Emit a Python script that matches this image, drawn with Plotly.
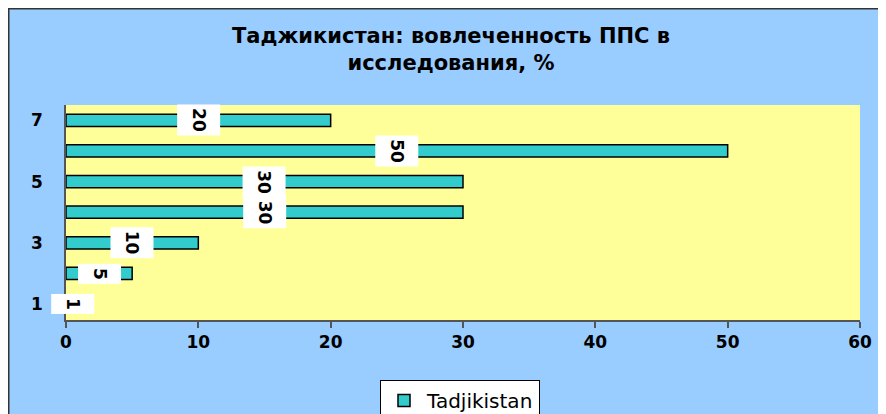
import plotly.graph_objects as go

categories = [1, 2, 3, 4, 5, 6, 7]
values = [1, 5, 10, 30, 30, 50, 20]
label_texts = ["1", "5", "10", "30", "30", "50", "20"]
series_name = "Tadjikistan"
title_text = "Таджикистан: вовлеченность ППС в<br>исследования, %"
x_ticks = [0, 10, 20, 30, 40, 50, 60]
y_ticks = [1, 3, 5, 7]

W, H = 878, 406
ml, mr, mt, mb = 58, 26, 97, 94
pw = W - ml - mr
ph = H - mt - mb

def px(xp):
    return (xp - ml) / pw

def py(yp):
    return (H - mb - yp) / ph

FONT = "DejaVu Sans"

fig = go.Figure()
fig.add_trace(go.Bar(
    x=values, y=categories, orientation="h", name=series_name,
    marker=dict(color="#33CCCC", line=dict(color="#000000", width=1.5)),
    width=0.4, showlegend=True,
))

for c, v, t in zip(categories, values, label_texts):
    fig.add_annotation(
        x=v / 2, y=c, xref="x", yref="y", text="<b>%s</b>" % t,
        textangle=90, showarrow=False, bgcolor="#FFFFFF",
        font=dict(family=FONT, size=17, color="#000000"),
        width=len(t) * 11 + 8, height=42, borderpad=0,
    )

# frame border (top and left edges)
fig.add_shape(type="line", xref="paper", yref="paper", x0=px(0), x1=px(W + 5), y0=py(0.5), y1=py(0.5),
              line=dict(color="#333333", width=2), layer="above")
fig.add_shape(type="line", xref="paper", yref="paper", x0=px(0.5), x1=px(0.5), y0=py(0), y1=py(H + 5),
              line=dict(color="#333333", width=2), layer="above")

fig.update_layout(
    width=W, height=H,
    margin=dict(l=ml, r=mr, t=mt, b=mb, pad=0, autoexpand=False),
    paper_bgcolor="#99CCFF", plot_bgcolor="#FFFF99",
    title=dict(text="<b>" + title_text + "</b>", x=443 / W, xanchor="center", y=1 - 34.5 / H, yanchor="middle",
               font=dict(family=FONT, size=21, color="#000000")),
    xaxis=dict(range=[0, 60], tickvals=x_ticks, ticktext=[str(v) for v in x_ticks],
               showgrid=False, zeroline=False, showline=True, linecolor="#555555", linewidth=1.5,
               ticks="outside", ticklen=6, tickcolor="#555555", tickwidth=1.5,
               tickfont=dict(family=FONT, size=17, color="#000000", weight="bold")),
    yaxis=dict(range=[0.48, 7.5], tickvals=y_ticks, ticktext=[str(v) for v in y_ticks],
               showgrid=False, zeroline=False, showline=True, linecolor="#555555", linewidth=1.5,
               ticks="", ticklabelstandoff=18,
               tickfont=dict(family=FONT, size=17, color="#000000", weight="bold")),
    legend=dict(x=px(372), xanchor="left", y=py(372), yanchor="top", orientation="h",
                bgcolor="#FFFFFF", bordercolor="#000000", borderwidth=1,
                font=dict(family=FONT, size=20, color="#000000"),
                itemwidth=36),
    bargap=0.6,
)

fig.write_html("out.html")
